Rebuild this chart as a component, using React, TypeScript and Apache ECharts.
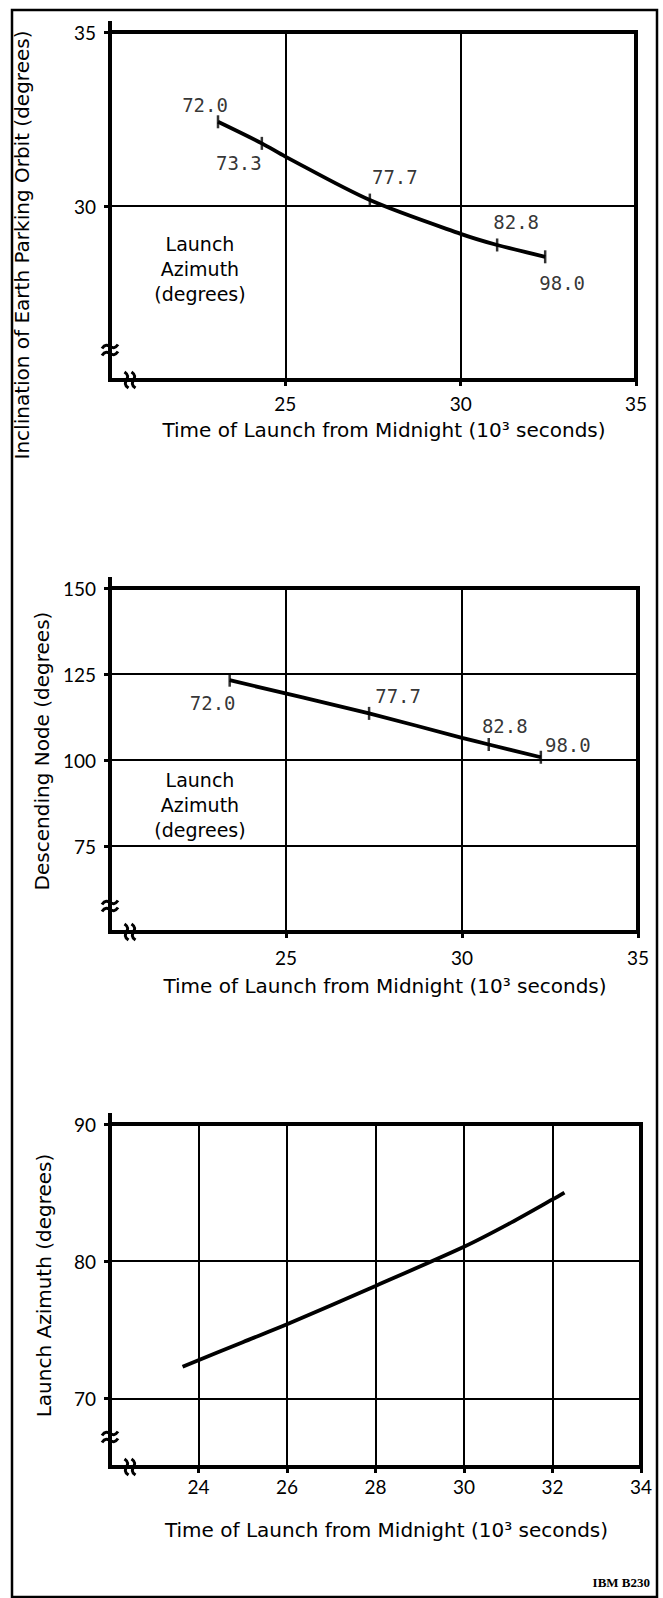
import React, { useEffect, useRef } from "react";
import * as echarts from "echarts";

// ---- Chart 1: Inclination of Earth parking orbit vs launch time ----
const incTime = [23.08, 24.33, 25.0, 27.41, 30.0, 31.04, 32.41];
const incValue = [32.42, 31.8, 31.42, 30.17, 29.2, 28.88, 28.54];
const incMarkTime = [23.08, 24.33, 27.41, 31.04, 32.41];
const incMarkValue = [32.42, 31.8, 30.17, 28.88, 28.54];
const incMarkAzimuth = ["72.0", "73.3", "77.7", "82.8", "98.0"];

// ---- Chart 2: Descending node vs launch time ----
const nodeTime = [23.4, 27.36, 30.0, 30.76, 32.24];
const nodeValue = [123.2, 113.55, 106.45, 104.5, 100.8];
const nodeMarkTime = [23.4, 27.36, 30.76, 32.24];
const nodeMarkValue = [123.2, 113.55, 104.5, 100.8];
const nodeMarkAzimuth = ["72.0", "77.7", "82.8", "98.0"];

// ---- Chart 3: Launch azimuth vs launch time ----
const aziTime = [23.64, 25, 26, 28, 30, 31, 32, 32.27];
const aziValue = [72.3, 74.1, 75.4, 78.2, 81.05, 82.7, 84.5, 85.0];

// ---- Tick labels ----
const xTicks1 = [25, 30, 35];
const yTicks1 = [30, 35];
const xTicks2 = [25, 30, 35];
const yTicks2 = [75, 100, 125, 150];
const xTicks3 = [24, 26, 28, 30, 32, 34];
const yTicks3 = [70, 80, 90];

const xTitle = "Time of Launch from Midnight (10³ seconds)";
const yTitle1 = "Inclination of Earth Parking Orbit (degrees)";
const yTitle2 = "Descending Node (degrees)";
const yTitle3 = "Launch Azimuth (degrees)";
const legendText = "Launch\nAzimuth\n(degrees)";

// label offsets (style only)
const incLabelOffset = [[-13, -17], [-23, 20], [25, -23], [19, -23], [17, 26]];
const nodeLabelOffset = [[-17, 23], [29, -17], [16, -19], [27, -12]];

const FONT = "Lato";
const TITLE_FONT = "DejaVu Sans";
const grids = [
  { left: 110, top: 32, width: 526, height: 348 },
  { left: 110, top: 588, width: 528, height: 344 },
  { left: 110, top: 1124, width: 531, height: 343 },
];

function xAxisOf(gi: number, min: number, max: number, ticks: number[], gap: number, margin: number) {
  return {
    type: "value",
    gridIndex: gi,
    min,
    max,
    name: xTitle,
    nameLocation: "middle",
    nameGap: gap,
    nameTextStyle: { color: "#000", fontSize: 20, fontFamily: TITLE_FONT, padding: [0, 0, 0, 22] },
    axisLine: { show: true, onZero: false, lineStyle: { color: "#000", width: 4 } },
    axisTick: { show: true, inside: false, length: 6, lineStyle: { color: "#000", width: 3 }, customValues: ticks },
    axisLabel: { color: "#000", fontSize: 19, fontFamily: FONT, margin, customValues: ticks },
    splitLine: { show: true, lineStyle: { color: "#000", width: 2 } },
  };
}

function yAxisOf(gi: number, min: number, max: number, ticks: number[], name: string, gap: number, pad: number[]) {
  return {
    type: "value",
    gridIndex: gi,
    min,
    max,
    name,
    nameLocation: "middle",
    nameGap: gap,
    nameTextStyle: { color: "#000", fontSize: 20, fontFamily: TITLE_FONT, padding: pad },
    axisLine: { show: true, onZero: false, lineStyle: { color: "#000", width: 4 } },
    axisTick: { show: true, inside: false, length: 6, lineStyle: { color: "#000", width: 3 }, customValues: ticks },
    axisLabel: { color: "#000", fontSize: 19, fontFamily: FONT, margin: 14, customValues: ticks },
    splitLine: { show: true, lineStyle: { color: "#000", width: 2 } },
  };
}

function markSeries(gi: number, xs: number[], ys: number[], names: string[], offsets: number[][]) {
  return {
    type: "scatter",
    xAxisIndex: gi,
    yAxisIndex: gi,
    symbol: "rect",
    symbolSize: [2.5, 13],
    itemStyle: { color: "#000" },
    z: 5,
    data: xs.map((x, i) => ({
      value: [x, ys[i]],
      label: {
        show: true,
        position: "inside",
        offset: offsets[i],
        formatter: names[i],
        color: "#000",
        fontSize: 19,
        fontFamily: "DejaVu Sans Mono",
      },
    })),
  };
}

function breaks(g: { left: number; top: number; width: number; height: number }, yBreakAbove: number) {
  const ax = g.left;
  const by = g.top + g.height;
  const yb = by - yBreakAbove;
  const xb = ax + 20;
  const st = { stroke: "#000", lineWidth: 3, fill: "none" };
  const items: any[] = [];
  [-3.5, 3.5].forEach((d) => {
    items.push({
      type: "bezierCurve",
      shape: { x1: ax - 8, y1: yb + d + 2, cpx1: ax - 2, cpy1: yb + d - 7, cpx2: ax + 2, cpy2: yb + d + 7, x2: ax + 8, y2: yb + d - 2 },
      style: st,
      z: 10,
    });
    items.push({
      type: "bezierCurve",
      shape: { x1: xb + d - 2, y1: by - 8, cpx1: xb + d + 7, cpy1: by - 2, cpx2: xb + d - 7, cpy2: by + 2, x2: xb + d + 2, y2: by + 8 },
      style: st,
      z: 10,
    });
  });
  // extension of the y axis above the plot
  items.push({
    type: "line",
    shape: { x1: ax, y1: g.top - 11, x2: ax, y2: g.top },
    style: { stroke: "#000", lineWidth: 4 },
    z: 10,
  });
  return items;
}

export default function App() {
  const ref = useRef<HTMLDivElement>(null);
  useEffect(() => {
    if (!ref.current) return;
    const chart = echarts.init(ref.current, null, { renderer: "svg" });
    const option: any = {
      animation: false,
      backgroundColor: "#fff",
      grid: grids.map((g) => ({ ...g, show: true, borderColor: "#000", borderWidth: 4, backgroundColor: "transparent" })),
      xAxis: [
        xAxisOf(0, 20, 35, xTicks1, 40, 14),
        xAxisOf(1, 20, 35, xTicks2, 44, 16),
        xAxisOf(2, 22, 34, xTicks3, 53, 10),
      ],
      yAxis: [
        yAxisOf(0, 25, 35, yTicks1, yTitle1, 78, [0, 78, 0, 0]),
        yAxisOf(1, 50, 150, yTicks2, yTitle2, 53, [0, 0, 0, 18]),
        yAxisOf(2, 65, 90, yTicks3, yTitle3, 56, [0, 0, 0, 20]),
      ],
      series: [
        {
          type: "line",
          xAxisIndex: 0,
          yAxisIndex: 0,
          smooth: 0.3,
          showSymbol: false,
          lineStyle: { color: "#000", width: 3.8 },
          data: incTime.map((t, i) => [t, incValue[i]]),
        },
        markSeries(0, incMarkTime, incMarkValue, incMarkAzimuth, incLabelOffset),
        {
          type: "line",
          xAxisIndex: 1,
          yAxisIndex: 1,
          smooth: 0.2,
          showSymbol: false,
          lineStyle: { color: "#000", width: 3.8 },
          data: nodeTime.map((t, i) => [t, nodeValue[i]]),
        },
        markSeries(1, nodeMarkTime, nodeMarkValue, nodeMarkAzimuth, nodeLabelOffset),
        {
          type: "line",
          xAxisIndex: 2,
          yAxisIndex: 2,
          smooth: 0.3,
          showSymbol: false,
          lineStyle: { color: "#000", width: 3.8 },
          data: aziTime.map((t, i) => [t, aziValue[i]]),
        },
      ],
      graphic: [
        {
          type: "rect",
          shape: { x: 12, y: 10, width: 645, height: 1587 },
          style: { fill: "none", stroke: "#000", lineWidth: 2.5 },
          z: 1,
        },
        ...breaks(grids[0], 30),
        ...breaks(grids[1], 26),
        ...breaks(grids[2], 30),
        {
          type: "text",
          style: { text: legendText, x: 200, y: 231, align: "center", verticalAlign: "top", font: `19px "${TITLE_FONT}"`, lineHeight: 25, fill: "#000" },
          z: 10,
        },
        {
          type: "text",
          style: { text: legendText, x: 200, y: 767, align: "center", verticalAlign: "top", font: `19px "${TITLE_FONT}"`, lineHeight: 25, fill: "#000" },
          z: 10,
        },
        {
          type: "text",
          style: { text: "IBM B230", x: 650, y: 1582, align: "right", verticalAlign: "middle", font: 'bold 13px "Liberation Serif"', fill: "#000" },
          z: 10,
        },
      ],
    };
    chart.setOption(option);
    return () => chart.dispose();
  }, []);
  return <div ref={ref} style={{ position: "absolute", left: 0, top: 0, width: 663, height: 1598 }} />;
}
